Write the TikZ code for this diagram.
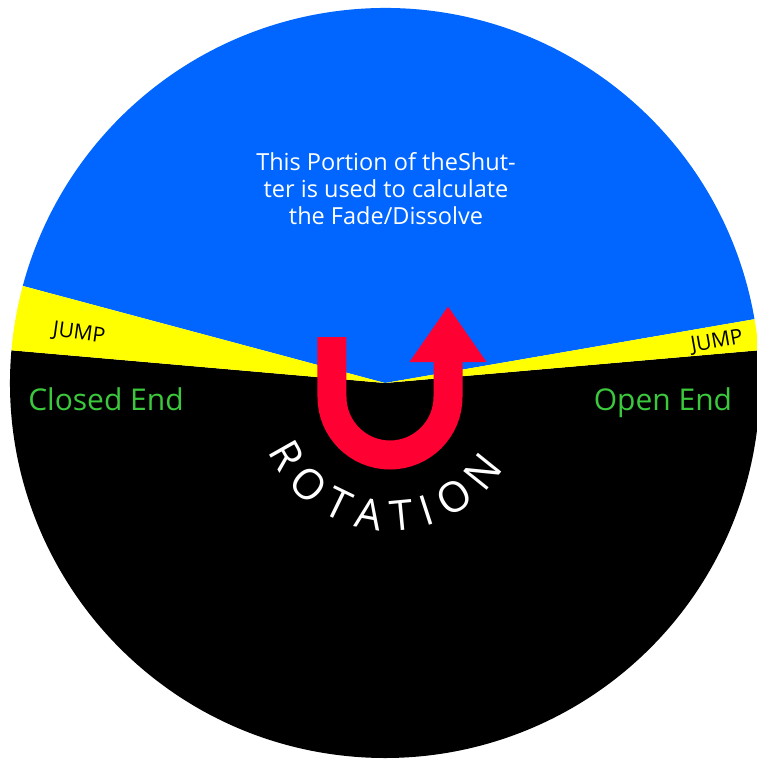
\documentclass[tikz,border=0pt]{standalone}
\usepackage{fontspec}
\setmainfont{Open Sans}
\usepackage{xcolor}
\usetikzlibrary{arrows.meta,positioning,decorations.text}
\definecolor{shutblue}{HTML}{0066FF}
\definecolor{jumpyellow}{HTML}{FFFF00}
\definecolor{endgreen}{HTML}{3CC83C}
\definecolor{rotred}{HTML}{FF0033}
\newcommand{\rotfont}{\fontsize{42}{46}\selectfont\color{white}}

\begin{document}
\begin{tikzpicture}[x=1pt,y=1pt,
  endlabel/.style={text=endgreen,anchor=base,font=\fontsize{30}{34}\selectfont},
  jumplabel/.style={text=black,inner sep=1pt,font=\fontsize{21}{24}\selectfont},
  rotarrow/.style={draw=rotred,line width=29pt,-{Triangle[width=73pt,length=56pt]}}]
  \useasboundingbox (-385,-380) rectangle (372,383);
  \fill[black] (0,0) -- (175:375) arc[start angle=175,end angle=365,radius=375] -- cycle;
  \fill[shutblue] (0,0) -- (9.8:375) arc[start angle=9.8,end angle=165,radius=375] -- cycle;
  \fill[jumpyellow] (0,0) -- (165:375) arc[start angle=165,end angle=175,radius=375] -- cycle;
  \fill[jumpyellow] (0,0) -- (5:375) arc[start angle=5,end angle=9.8,radius=375] -- cycle;
  \node[text=white,align=center,font=\fontsize{23.5}{27}\selectfont] (portion) at (1,194)
    {This Portion of theShut-\\ter is used to calculate\\the Fade/Dissolve};
  \node[jumplabel,rotate=-8] (jumpl) at (-306,49) {JUMP};
  \node[jumplabel,rotate=10] (jumpr) at (332,41) {JUMP};
  \node[endlabel] (closed) at (-279,-27) {Closed End};
  \node[endlabel] (open) at (278,-27) {Open End};
  \draw[rotarrow] (-53,46) -- (-53,-14) arc[start angle=180,end angle=360,radius=58] -- (63,77);
  \path[decorate,decoration={text along path,text={|\rotfont|ROTATION},text align=fit to path}]
    (5,-14) ++(204:134) arc[start angle=204,end angle=328,radius=134];
\end{tikzpicture}
\end{document}
